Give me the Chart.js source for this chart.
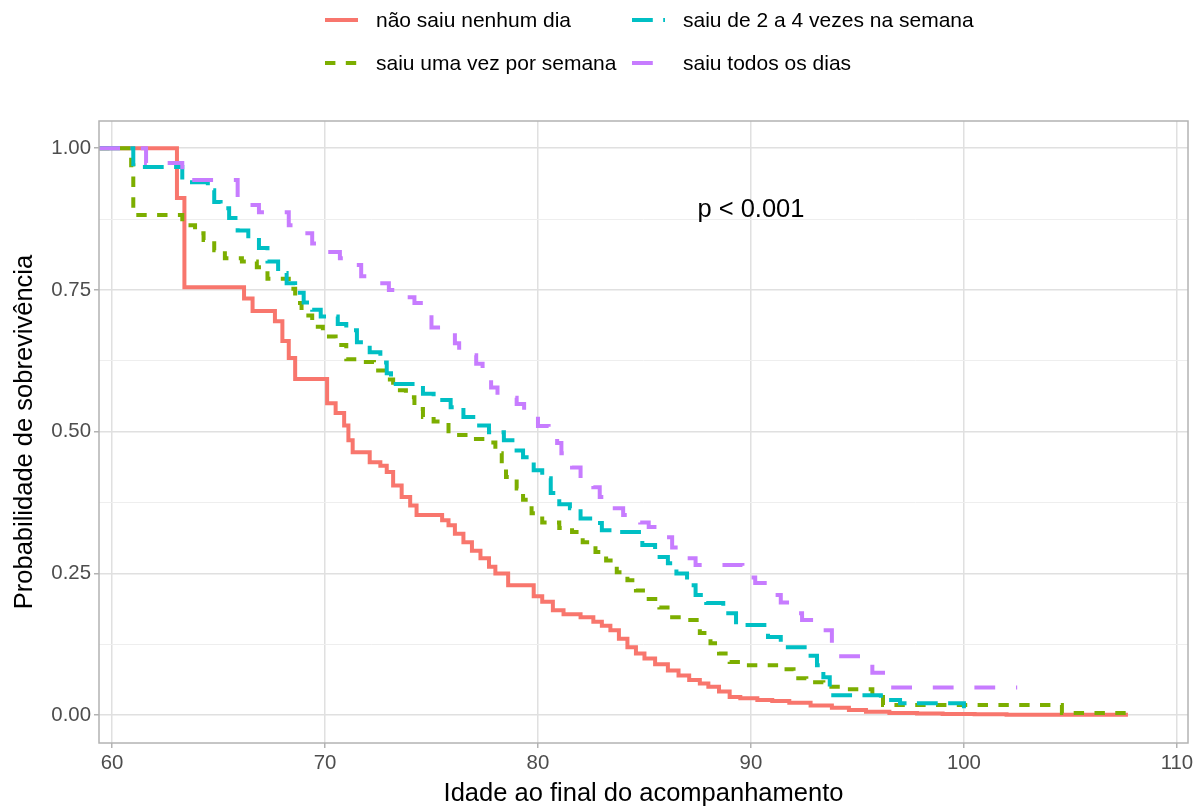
<!DOCTYPE html>
<html><head><meta charset="utf-8">
<script src="https://cdn.jsdelivr.net/npm/chart.js@4.4.1/dist/chart.umd.min.js"></script>
<style>
html,body{margin:0;padding:0;background:#fff;}
#wrap{position:relative;width:1202px;height:807px;}
#legend{position:absolute;left:325px;top:-2px;display:grid;grid-template-rows:43px 43px;grid-template-columns:292px auto;grid-auto-flow:column;column-gap:15px;font-family:"Liberation Sans",Arial,sans-serif;font-size:21px;color:#000;}
.item{display:flex;align-items:center;white-space:nowrap;}
.item svg{width:33px;height:20px;margin-right:18px;flex:none;}
</style></head><body>
<div id="wrap"><canvas id="c" width="1202" height="807"></canvas><div id="legend"></div></div>
<script>
// ---- data ----
const seriesLabels = ["não saiu nenhum dia", "saiu uma vez por semana", "saiu de 2 a 4 vezes na semana", "saiu todos os dias"];
const seriesColors = ["#F8766D", "#7CAE00", "#00BFC4", "#C77CFF"];
const seriesDashes = [[], [10.4, 10.4], [20.8, 10.4], [20.8, 20.8]];

const ageNenhum = [59.4, 63.05, 63.4, 66.2, 66.6, 67.65, 68.0, 68.3, 68.6, 70.1, 70.5, 70.9, 71.1, 71.3, 72.1, 72.6, 72.9, 73.2, 73.6, 74.0, 74.3, 75.5, 75.8, 76.1, 76.5, 76.9, 77.3, 77.7, 78.0, 78.6, 79.8, 80.2, 80.7, 81.2, 82.0, 82.6, 83.0, 83.4, 83.8, 84.2, 84.6, 85.0, 85.5, 86.1, 86.6, 87.1, 87.6, 88.0, 88.5, 89.0, 89.5, 90.3, 91.0, 91.8, 92.8, 93.8, 94.6, 95.4, 96.5, 97.8, 99.0, 100.5, 102.0, 107.7];
const survNenhum = [1.0, 0.912, 0.755, 0.735, 0.713, 0.695, 0.66, 0.63, 0.593, 0.55, 0.533, 0.511, 0.485, 0.464, 0.446, 0.44, 0.429, 0.405, 0.385, 0.37, 0.353, 0.344, 0.335, 0.32, 0.305, 0.29, 0.277, 0.262, 0.25, 0.229, 0.21, 0.2, 0.185, 0.178, 0.173, 0.165, 0.158, 0.15, 0.135, 0.12, 0.109, 0.1, 0.09, 0.079, 0.07, 0.062, 0.056, 0.05, 0.042, 0.032, 0.03, 0.027, 0.025, 0.022, 0.017, 0.013, 0.009, 0.006, 0.004, 0.003, 0.002, 0.0015, 0.001, 0.001];

const ageUma = [59.4, 60.9, 61.0, 63.3, 63.9, 64.3, 64.8, 65.3, 66.1, 66.8, 67.3, 68.3, 68.6, 68.9, 69.4, 69.9, 70.5, 71.0, 71.6, 72.3, 72.8, 73.2, 73.8, 74.2, 74.6, 75.1, 75.8, 76.9, 77.6, 78.0, 78.3, 78.5, 79.0, 79.3, 79.7, 80.2, 81.0, 81.6, 82.1, 82.7, 83.2, 83.7, 84.2, 84.6, 85.2, 85.7, 86.3, 87.0, 87.6, 88.1, 88.5, 89.0, 89.6, 91.5, 92.0, 92.6, 93.4, 94.3, 95.7, 96.2, 104.6, 107.7];
const survUma = [1.0, 0.97, 0.882, 0.864, 0.85, 0.838, 0.82, 0.806, 0.80, 0.79, 0.77, 0.752, 0.727, 0.705, 0.685, 0.668, 0.653, 0.628, 0.623, 0.608, 0.592, 0.573, 0.561, 0.54, 0.526, 0.518, 0.494, 0.487, 0.481, 0.462, 0.44, 0.42, 0.40, 0.38, 0.356, 0.34, 0.33, 0.323, 0.305, 0.288, 0.273, 0.252, 0.238, 0.22, 0.205, 0.19, 0.173, 0.168, 0.145, 0.127, 0.109, 0.094, 0.088, 0.081, 0.065, 0.058, 0.05, 0.046, 0.032, 0.018, 0.004, 0.004];

const ageDuas = [59.4, 61.0, 63.3, 64.5, 64.8, 65.1, 65.5, 65.9, 66.4, 66.9, 67.3, 67.8, 68.2, 68.6, 69.0, 69.4, 69.8, 70.6, 71.0, 71.5, 72.1, 72.6, 72.9, 73.1, 74.6, 75.1, 75.9, 76.5, 77.1, 77.7, 78.4, 78.8, 79.3, 79.8, 80.2, 80.6, 81.0, 81.5, 82.0, 82.6, 83.0, 83.8, 84.9, 85.5, 86.1, 86.5, 87.0, 87.4, 87.9, 88.7, 89.3, 90.8, 91.4, 92.8, 93.1, 93.4, 93.7, 96.1, 97.0, 100.0, 100.3];
const survDuas = [1.0, 0.967, 0.94, 0.926, 0.905, 0.894, 0.877, 0.855, 0.838, 0.824, 0.80, 0.78, 0.762, 0.745, 0.728, 0.715, 0.703, 0.69, 0.679, 0.658, 0.64, 0.622, 0.603, 0.584, 0.567, 0.556, 0.543, 0.526, 0.511, 0.499, 0.485, 0.467, 0.455, 0.432, 0.418, 0.392, 0.372, 0.365, 0.347, 0.339, 0.326, 0.323, 0.30, 0.279, 0.268, 0.25, 0.229, 0.212, 0.198, 0.18, 0.159, 0.138, 0.12, 0.105, 0.088, 0.067, 0.035, 0.027, 0.021, 0.011, 0.011];

const ageTodos = [59.4, 61.6, 63.3, 63.45, 65.9, 66.3, 66.9, 68.3, 68.6, 69.4, 69.7, 70.7, 71.0, 71.7, 72.0, 73.0, 73.4, 74.2, 74.6, 75.0, 75.5, 76.1, 76.3, 77.1, 77.4, 77.8, 78.1, 79.0, 79.35, 80.0, 80.5, 80.9, 81.1, 81.6, 82.0, 82.6, 82.9, 83.5, 84.0, 84.8, 85.2, 85.9, 86.3, 87.0, 87.4, 89.6, 90.2, 90.9, 91.4, 91.8, 92.4, 93.0, 93.8, 95.7, 96.2, 102.5];
const survTodos = [1.0, 0.974, 0.958, 0.944, 0.914, 0.90, 0.887, 0.864, 0.85, 0.832, 0.817, 0.806, 0.794, 0.774, 0.762, 0.75, 0.737, 0.727, 0.714, 0.684, 0.67, 0.656, 0.635, 0.62, 0.595, 0.578, 0.56, 0.549, 0.533, 0.51, 0.505, 0.48, 0.462, 0.437, 0.418, 0.402, 0.385, 0.365, 0.353, 0.34, 0.332, 0.314, 0.296, 0.277, 0.265, 0.243, 0.233, 0.212, 0.199, 0.18, 0.168, 0.15, 0.104, 0.075, 0.049, 0.049];

const xTicks = [60, 70, 80, 90, 100, 110];
const yMajorTicks = [0, 0.25, 0.5, 0.75, 1];
const yTickLabels = ["0.00", "0.25", "0.50", "0.75", "1.00"];
const yMinorTicks = [0.125, 0.375, 0.625, 0.875];
const xTitle = "Idade ao final do acompanhamento";
const yTitle = "Probabilidade de sobrevivência";
const pText = "p < 0.001";
const pX = 90, pY = 0.891;
const xMin = 59.39, xMax = 110.52, yMin = -0.049, yMax = 1.048;

// ---- build ----
const FONT = '"Liberation Sans", Arial, sans-serif';
const ages = [ageNenhum, ageUma, ageDuas, ageTodos];
const survs = [survNenhum, survUma, survDuas, survTodos];
const datasets = seriesLabels.map((lab, i) => ({
  label: lab,
  data: ages[i].map((a, j) => ({x: a, y: survs[i][j]})),
  borderColor: seriesColors[i],
  backgroundColor: seriesColors[i],
  borderWidth: 4,
  borderDash: seriesDashes[i],
  borderCapStyle: 'butt',
  borderJoinStyle: 'miter',
  stepped: true,
  pointRadius: 0,
  pointHoverRadius: 0,
  fill: false,
  order: 4 - i
}));

// legend (column-major, 2 rows)
const legendEl = document.getElementById('legend');
seriesLabels.forEach((lab, i) => {
  const it = document.createElement('div');
  it.className = 'item';
  const dash = seriesDashes[i].length ? seriesDashes[i].join(' ') : 'none';
  it.innerHTML = '<svg viewBox="0 0 33 20"><line x1="0" y1="10" x2="33" y2="10" stroke="' + seriesColors[i] +
    '" stroke-width="4" stroke-dasharray="' + dash + '"/></svg><span></span>';
  it.querySelector('span').textContent = lab;
  legendEl.appendChild(it);
});

const isMajor = v => yMajorTicks.some(m => Math.abs(m - v) < 1e-9);

const panelPlugin = {
  id: 'panel',
  afterDraw(chart) {
    const {ctx, chartArea: a, scales} = chart;
    ctx.save();
    ctx.strokeStyle = '#B3B3B3';
    ctx.lineWidth = 1.5;
    ctx.strokeRect(a.left, a.top, a.right - a.left, a.bottom - a.top);
    ctx.fillStyle = '#000';
    ctx.font = '25.5px ' + FONT;
    ctx.textAlign = 'center';
    ctx.textBaseline = 'middle';
    ctx.fillText(pText, scales.x.getPixelForValue(pX), scales.y.getPixelForValue(pY));
    ctx.restore();
  }
};

new Chart(document.getElementById('c'), {
  type: 'line',
  data: {datasets},
  plugins: [panelPlugin],
  options: {
    responsive: false,
    animation: false,
    devicePixelRatio: 1,
    layout: {padding: {top: 121, right: 14, left: 0, bottom: 0}},
    plugins: {legend: {display: false}, tooltip: {enabled: false}},
    events: [],
    scales: {
      x: {
        type: 'linear',
        min: xMin, max: xMax,
        afterBuildTicks: s => { s.ticks = xTicks.map(v => ({value: v})); },
        afterFit: s => { s.height = 64; },
        ticks: {
          autoSkip: false, maxRotation: 0, padding: 3,
          font: {family: FONT, size: 20.4}, color: '#4D4D4D',
          callback: v => String(v)
        },
        grid: {color: '#E0E0E0', lineWidth: 1.5, tickColor: '#B3B3B3', tickLength: 5},
        border: {display: false},
        title: {display: true, text: xTitle, color: '#000', font: {family: FONT, size: 25.5, lineHeight: 1}, padding: {top: 0, bottom: 0}}
      },
      y: {
        type: 'linear',
        min: yMin, max: yMax,
        afterBuildTicks: s => { s.ticks = yMajorTicks.concat(yMinorTicks).sort((a, b) => a - b).map(v => ({value: v})); },
        afterFit: s => { s.width = 99; },
        ticks: {
          autoSkip: false, padding: 3,
          font: {family: FONT, size: 20.4}, color: '#4D4D4D',
          callback: v => { const k = yMajorTicks.findIndex(m => Math.abs(m - v) < 1e-9); return k >= 0 ? yTickLabels[k] : ''; }
        },
        grid: {
          color: c => isMajor(c.tick.value) ? '#E0E0E0' : '#EEEEEE',
          lineWidth: c => isMajor(c.tick.value) ? 1.5 : 1,
          tickColor: c => isMajor(c.tick.value) ? '#B3B3B3' : 'rgba(0,0,0,0)',
          tickLength: 5
        },
        border: {display: false},
        title: {display: true, text: yTitle, color: '#000', font: {family: FONT, size: 25.5, lineHeight: 1.2}, padding: {top: 10, bottom: 0}}
      }
    }
  }
});
</script>
</body></html>
